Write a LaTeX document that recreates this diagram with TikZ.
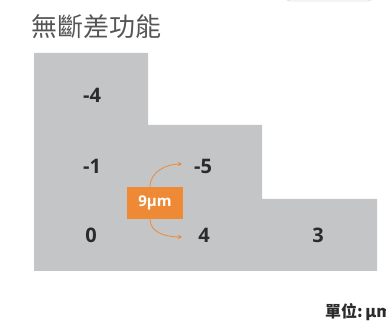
\documentclass[tikz,border=0pt]{standalone}
\usepackage{fontspec}
\setmainfont{Open Sans}
\newfontfamily\cjk{Noto Sans CJK TC}
\usetikzlibrary{arrows.meta}
\definecolor{shapegray}{HTML}{C4C5C7}
\definecolor{accent}{HTML}{EE8A35}
\definecolor{titlegray}{HTML}{555555}
\definecolor{numdark}{HTML}{2B2B2B}
\tikzset{
  num/.style={font=\fontsize{20}{20}\selectfont\bfseries, text=numdark, inner sep=0pt},
  tagbox/.style={fill=accent, text=white, font=\fontsize{15}{15}\selectfont\bfseries, minimum width=56pt, minimum height=32pt, inner sep=0pt},
  curvearrow/.style={draw=accent, line width=0.8pt, -{Stealth[length=4pt,width=4pt]}}
}
\begin{document}
\begin{tikzpicture}[x=1pt,y=-1pt]
\useasboundingbox (0,0) rectangle (386,323);
\clip (0,0) rectangle (386,323);
% faint edge at top right
\draw[black!12, line width=0.8pt] (286,-2) to[out=-80,in=180] (296,1) -- (362,1) to[out=0,in=-100] (372,-2);
% title
\node[anchor=base west, inner sep=0pt, text=titlegray, font=\cjk\fontsize{26}{26}\selectfont] (title) at (31,37) {無斷差功能};
% stepped shape
\fill[shapegray] (34,53) -- (148,53) -- (148,125) -- (262,125) -- (262,199) -- (377,199) -- (377,271) -- (34,271) -- cycle;
% numbers
\node[num] (a) at (92,95) {-4};
\node[num] (b) at (92,166) {-1};
\node[num] (c) at (91,235) {0};
\node[num] (d) at (203,166) {-5};
\node[num] (e) at (204,235) {4};
\node[num] (f) at (318,235) {3};
% tag
\node[tagbox] (tag) at (155,203) {9µm};
\coordinate (up) at (182,164);
\coordinate (dn) at (182,237);
\draw[curvearrow] ([xshift=-5pt]tag.north) to[out=90,in=180] (up);
\draw[curvearrow] ([xshift=-5pt]tag.south) to[out=-90,in=180] (dn);
% unit
\node[anchor=base west, inner sep=0pt, text=numdark, font=\cjk\fontsize{16}{16}\selectfont\bfseries] (unit) at (325,318) {單位:\,μm};
\end{tikzpicture}
\end{document}
